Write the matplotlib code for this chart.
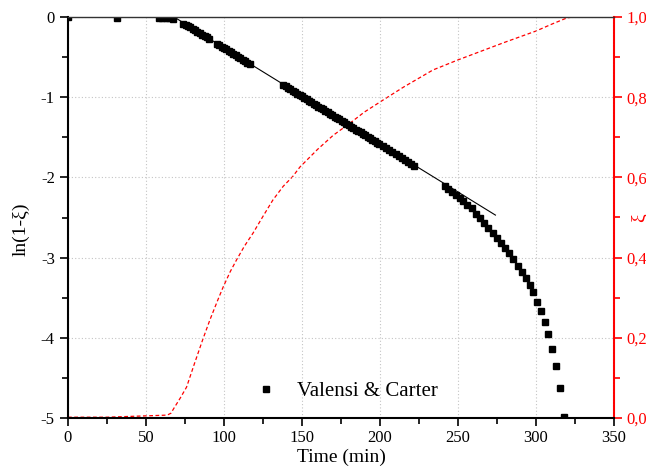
import matplotlib
matplotlib.use("Agg")
import matplotlib.pyplot as plt
from matplotlib.ticker import MultipleLocator, FuncFormatter

plt.rcParams['font.family'] = ['Liberation Serif', 'DejaVu Serif']
plt.rcParams['axes.unicode_minus'] = False

# ---- data: ln(1-xi) measured points (Valensi & Carter) ----
pts_t = [0, 31.5, 58.5, 60.5, 62.5, 64.5, 67.5,
         74, 75.5, 77, 78.5, 80, 81.5, 83, 84.5, 86, 87.5, 89, 90.5,
         95.5, 97, 98.5, 100, 101.5, 103, 104.5, 106, 107.5, 109, 110.5, 112, 113.5, 115, 116.5,
         138, 139.5, 141, 142.5, 144, 145.5, 147, 148.5, 150, 151.5, 153, 154.5, 156, 157.5,
         159, 160.5, 162, 163.5, 165, 166.5, 168, 169.5, 171, 172.5, 174, 175.5, 177, 178.5,
         180, 181.5, 183, 184.5, 186, 187.5, 189, 190.5, 192, 193.5, 195, 196.5, 198, 199.5,
         202, 204, 206, 208, 210, 212, 214, 216, 218, 220, 222,
         241.5, 243.5, 246, 248.5, 251, 253.5, 256, 258.8, 261.5, 264.1, 266.7, 269.4, 272.2,
         274.8, 277.4, 280.1, 282.9, 285.4, 288.3, 290.8, 293.6, 296.2, 298.3, 300.6, 303,
         305.6, 307.9, 310.3, 312.8, 315.2, 317.8]
pts_v = [0, -0.01, -0.01, -0.01, -0.01, -0.012, -0.02,
         -0.09, -0.10, -0.115, -0.13, -0.15, -0.165, -0.185, -0.20, -0.22, -0.24, -0.255, -0.275,
         -0.335, -0.35, -0.37, -0.39, -0.405, -0.425, -0.44, -0.46, -0.48, -0.495, -0.515, -0.53, -0.55, -0.57, -0.585,
         -0.846, -0.864, -0.882, -0.90, -0.918, -0.936, -0.954, -0.972, -0.99, -1.008, -1.026, -1.044, -1.062, -1.08,
         -1.098, -1.116, -1.134, -1.152, -1.17, -1.188, -1.206, -1.224, -1.242, -1.26, -1.278, -1.296, -1.314, -1.332,
         -1.35, -1.368, -1.386, -1.404, -1.422, -1.44, -1.458, -1.476, -1.494, -1.512, -1.53, -1.548, -1.566, -1.584,
         -1.61, -1.635, -1.66, -1.685, -1.71, -1.735, -1.76, -1.785, -1.81, -1.835, -1.86,
         -2.11, -2.14, -2.18, -2.22, -2.26, -2.30, -2.34, -2.385, -2.457, -2.51, -2.57, -2.635, -2.697,
         -2.76, -2.82, -2.884, -2.946, -3.021, -3.10, -3.175, -3.25, -3.34, -3.43, -3.55, -3.665,
         -3.80, -3.956, -4.14, -4.35, -4.62, -4.985]

# linear fit line
fit_t = [68, 274]
fit_v = [0.0, -2.47]

# conversion xi(t) (red dashed, right axis)
xi_t = [0, 25, 40, 55, 62, 64, 66, 68, 72, 76, 81, 86.5, 91, 96, 99.5, 104, 108, 113,
        118.6, 125, 131.4, 138, 144, 148.7, 160, 170, 181, 190, 202, 215, 234, 250, 265,
        280, 300, 310, 320, 324]
xi_v = [0.002, 0.002, 0.004, 0.006, 0.007, 0.008, 0.012, 0.025, 0.05, 0.077, 0.135, 0.197, 0.245,
        0.294, 0.327, 0.365, 0.394, 0.428, 0.461, 0.503, 0.544, 0.578, 0.602, 0.626, 0.67,
        0.705, 0.736, 0.763, 0.793, 0.825, 0.868, 0.893, 0.915, 0.937, 0.965, 0.982, 0.998, 1.0]

x_ticks = [0, 50, 100, 150, 200, 250, 300, 350]
yl_ticks = [0, -1, -2, -3, -4, -5]
yr_ticks = [0.0, 0.2, 0.4, 0.6, 0.8, 1.0]

fig = plt.figure(figsize=(6.46, 4.67), dpi=100)
ax = fig.add_axes([68/646, 49/467, 546/646, 401/467])
ax2 = ax.twinx()

ax.set_zorder(ax2.get_zorder() + 1)
ax.patch.set_visible(False)

ax2.plot(xi_t, xi_v, color='red', lw=0.9, linestyle=(0, (3, 2)))
ax.plot(fit_t, fit_v, color='black', lw=0.8)
ax.plot(pts_t, pts_v, linestyle='none', marker='s', ms=4.4, color='black',
        label='Valensi & Carter')

ax.set_xlim(0, 350)
ax.set_ylim(-5, 0)
ax2.set_ylim(0, 1.0)

ax.set_xticks(x_ticks)
ax.set_yticks(yl_ticks)
ax2.set_yticks(yr_ticks)
ax.xaxis.set_minor_locator(MultipleLocator(25))
ax.yaxis.set_minor_locator(MultipleLocator(0.5))
ax2.yaxis.set_minor_locator(MultipleLocator(0.1))
ax2.yaxis.set_major_formatter(FuncFormatter(lambda v, p: f"{v:.1f}".replace('.', ',')))

ax.grid(True, which='major', color='#c4c4c4', linestyle=(0, (1, 2)), lw=0.8)
ax.set_axisbelow(True)

ax.tick_params(axis='both', which='major', direction='out', length=6, width=1.2,
               labelsize=12, colors='black')
ax.tick_params(axis='both', which='minor', direction='out', length=4, width=1.2)
ax.tick_params(axis='x', pad=3)
ax2.tick_params(axis='y', which='major', direction='out', length=6, width=1.2,
                labelsize=12, colors='red', pad=3)
ax2.tick_params(axis='y', which='minor', direction='out', length=4, width=1.2, colors='red')

for s in ['left', 'bottom']:
    ax.spines[s].set_linewidth(1.5)
ax.spines['top'].set_linewidth(1.0)
ax.spines['top'].set_color('#333333')
ax.spines['right'].set_visible(False)
ax2.spines['right'].set_color('red')
ax2.spines['right'].set_linewidth(1.5)
for s in ['left', 'bottom', 'top']:
    ax2.spines[s].set_visible(False)

ax.set_xlabel('Time (min)', fontsize=14)
ax.xaxis.set_label_coords(0.5, -0.077)
ax.set_ylabel('ln(1-ξ)', fontsize=14)
ax.yaxis.set_label_coords(-0.07, 0.47)
ax2.set_ylabel('ξ', fontsize=14, color='red')
ax2.yaxis.set_label_coords(1.03, 0.5)

ax.legend(loc='center left', bbox_to_anchor=(0.325, 0.067), frameon=False,
          fontsize=15, borderpad=0, handlelength=1.0, handletextpad=0.99,
          markerscale=1.0)

fig.savefig('out.png', dpi=100)
